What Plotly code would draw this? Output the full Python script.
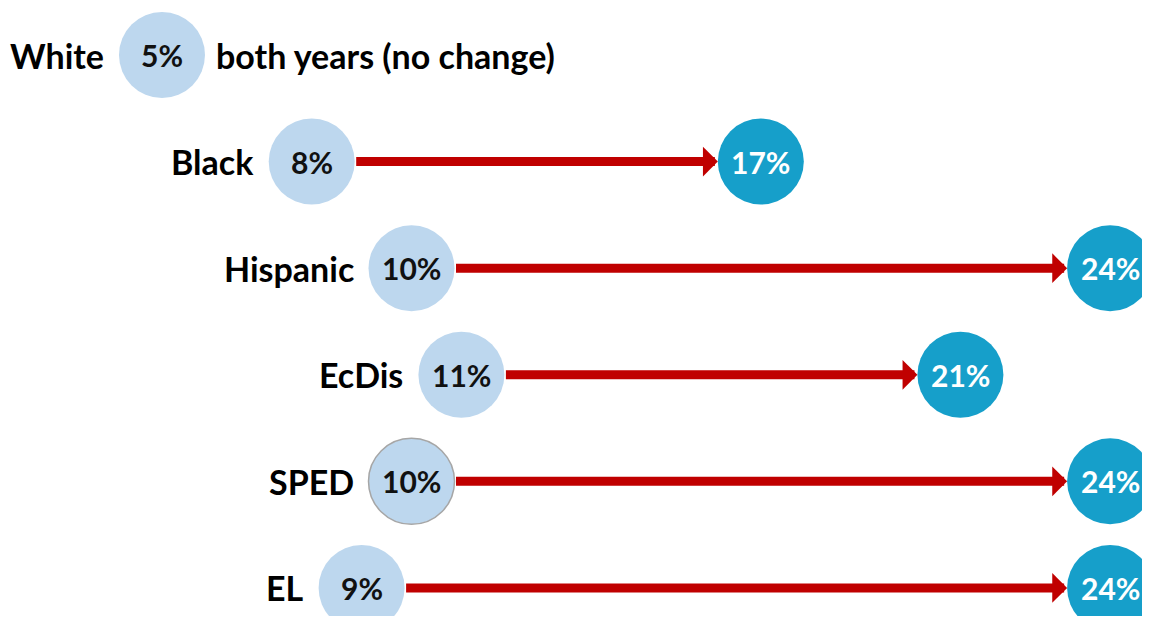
import plotly.graph_objects as go

groups = ["White", "Black", "Hispanic", "EcDis", "SPED", "EL"]
rate_before = [5, 8, 10, 11, 10, 9]
rate_after = [5, 17, 24, 21, 24, 24]
no_change_note = "both years (no change)"

rows = list(range(len(groups)))
changed = [i for i in rows if rate_after[i] != rate_before[i]]

FONT = "Lato"
LIGHT = "#BDD7EE"
DARK = "#169FCA"
RED = "#C00000"
R = 43  # circle radius in px

fig = go.Figure()

# before circles
fig.add_trace(go.Scatter(
    x=rate_before, y=rows, mode="markers",
    marker=dict(size=2 * R, color=LIGHT,
                line=dict(width=[0, 0, 0, 0, 1.5, 0], color="#A6A6A6")),
    cliponaxis=False, hoverinfo="skip", showlegend=False,
))

# after circles
fig.add_trace(go.Scatter(
    x=[rate_after[i] for i in changed], y=changed, mode="markers",
    marker=dict(size=2 * R, color=DARK, line=dict(width=0)),
    cliponaxis=False, hoverinfo="skip", showlegend=False,
))

# arrows
for i in changed:
    fig.add_annotation(
        x=rate_after[i], y=i, ax=rate_before[i], ay=i,
        xref="x", yref="y", axref="x", ayref="y",
        text="", showarrow=True, arrowhead=1, arrowsize=0.55,
        arrowwidth=9, arrowcolor=RED, standoff=R, startstandoff=R,
    )

# percent labels inside circles
for i in rows:
    fig.add_annotation(
        x=rate_before[i], y=i, xref="x", yref="y", text=f"{rate_before[i]}%",
        showarrow=False, xanchor="center", yanchor="middle", yshift=0,
        font=dict(family=FONT, size=30, color="#111111", weight="bold"),
    )
for i in changed:
    fig.add_annotation(
        x=rate_after[i], y=i, xref="x", yref="y", text=f"{rate_after[i]}%",
        showarrow=False, xanchor="center", yanchor="middle", yshift=0,
        font=dict(family=FONT, size=30, color="white", weight="bold"),
    )

# group labels
for i in rows:
    fig.add_annotation(
        x=rate_before[i], y=i, xref="x", yref="y", text=groups[i],
        showarrow=False, xanchor="right", yanchor="middle", xshift=-(R + 13),
        font=dict(family=FONT, size=34, color="#000000", weight="bold"),
    )

# no-change note
for i in rows:
    if rate_after[i] == rate_before[i]:
        fig.add_annotation(
            x=rate_before[i], y=i, xref="x", yref="y", text=no_change_note,
            showarrow=False, xanchor="left", yanchor="middle", xshift=R + 9,
            font=dict(family=FONT, size=34, color="#000000", weight="bold"),
        )

fig.update_layout(
    width=1134, height=608, margin=dict(l=0, r=0, t=0, b=0),
    paper_bgcolor="white", plot_bgcolor="white",
    xaxis=dict(range=[1.914, 24.639], visible=False, fixedrange=True),
    yaxis=dict(range=[5.263, -0.441], visible=False, fixedrange=True),
)

fig.write_html("out.html")
